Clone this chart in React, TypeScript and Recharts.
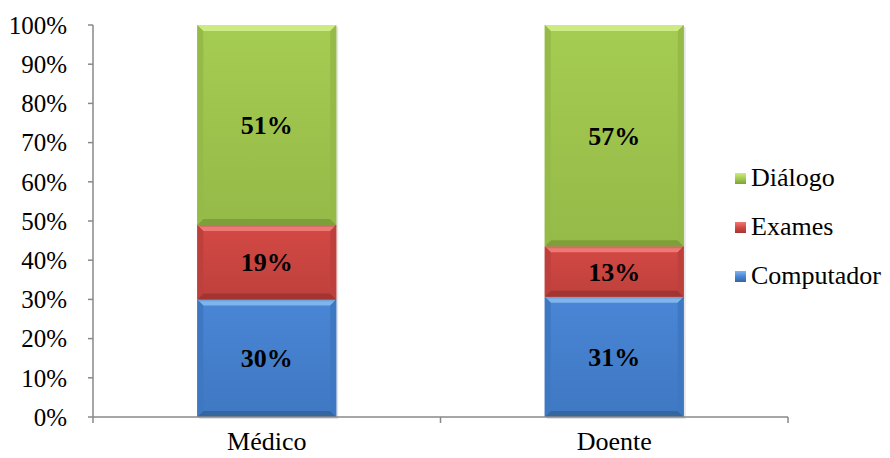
import React from "react"
import { BarChart, Bar, XAxis, YAxis, LabelList } from "recharts"

const categories = ["Médico", "Doente"]
const computador = [30, 31]
const exames = [19, 13]
const dialogo = [51, 57]
const yTicks = [0, 0.1, 0.2, 0.3, 0.4, 0.5, 0.6, 0.7, 0.8, 0.9, 1]

const data = categories.map((name, i) => ({
  name,
  computador: computador[i],
  exames: exames[i],
  dialogo: dialogo[i],
}))

const SERIES = [
  { key: "computador", label: "Computador", base: "#4A86D6", light: "#7FB5EE", dark: "#34669F", side: "#3F78C2" },
  { key: "exames", label: "Exames", base: "#D44944", light: "#EE7873", dark: "#A23532", side: "#BE403C" },
  { key: "dialogo", label: "Diálogo", base: "#A5CC52", light: "#CDEB83", dark: "#7F9F3A", side: "#95BA48" },
]

const FONT = '"Liberation Serif", "Times New Roman", serif'
const AXIS = "#888888"

// bevelled bar like the old Excel 2007 style
function bevelShape(s: typeof SERIES[number]) {
  return (props: any) => {
    const { x, y, width: w, height: h } = props
    if (!w || !h) return null
    const b = 6
    return (
      <g>
        <rect x={x + 2} y={y + 2} width={w} height={h} fill="rgba(0,0,0,0.1)" />
        <rect x={x} y={y} width={w} height={h} fill={`url(#grad-${s.key})`} />
        <polygon points={`${x},${y} ${x + w},${y} ${x + w - b},${y + b} ${x + b},${y + b}`} fill={s.light} />
        <polygon points={`${x},${y + h} ${x + w},${y + h} ${x + w - b},${y + h - b} ${x + b},${y + h - b}`} fill={s.dark} />
        <polygon points={`${x},${y} ${x + b},${y + b} ${x + b},${y + h - b} ${x},${y + h}`} fill={s.side} />
        <polygon points={`${x + w},${y} ${x + w - b},${y + b} ${x + w - b},${y + h - b} ${x + w},${y + h}`} fill={s.side} />
      </g>
    )
  }
}

const PLOT_LEFT = 93
const PLOT_RIGHT = 788
const band = (PLOT_RIGHT - PLOT_LEFT) / categories.length

function XTick(props: any) {
  const { x, y, payload, index } = props
  return (
    <g>
      <line x1={x - band / 2} x2={x - band / 2} y1={y - 20} y2={y - 14} stroke={AXIS} strokeWidth={1.5} />
      {index === categories.length - 1 && (
        <line x1={x + band / 2} x2={x + band / 2} y1={y - 20} y2={y - 14} stroke={AXIS} strokeWidth={1.5} />
      )}
      <text x={x} y={y} dy={13} textAnchor="middle" fontSize={26} fontFamily={FONT} fill="#000">
        {payload.value}
      </text>
    </g>
  )
}

export default function App() {
  return (
    <div style={{ position: "absolute", left: 0, top: 0, width: 890, height: 458, background: "#fff" }}>
      <BarChart
        width={890}
        height={458}
        data={data}
        stackOffset="expand"
        barCategoryGap="30%"
        margin={{ top: 25, right: 102, bottom: 0, left: 0 }}
      >
        <defs>
          {SERIES.map((s) => (
            <linearGradient key={s.key} id={`grad-${s.key}`} x1="0" y1="0" x2="0" y2="1">
              <stop offset="0%" stopColor={s.base} />
              <stop offset="100%" stopColor={s.side} />
            </linearGradient>
          ))}
        </defs>
        <XAxis
          dataKey="name"
          height={41}
          tickLine={false}
          axisLine={{ stroke: AXIS, strokeWidth: 1.5 }}
          tick={<XTick />}
          tickMargin={14}
        />
        <YAxis
          width={93}
          domain={[0, 1]}
          ticks={yTicks}
          tickFormatter={(v) => `${Math.round(v * 100)}%`}
          tick={{ fontSize: 25, fontFamily: FONT, fill: "#000" }}
          tickSize={5}
          tickMargin={21}
          tickLine={{ stroke: AXIS, strokeWidth: 1.5 }}
          axisLine={{ stroke: AXIS, strokeWidth: 1.5 }}
          interval={0}
        />
        {SERIES.map((s) => (
          <Bar key={s.key} dataKey={s.key} stackId="a" isAnimationActive={false} shape={bevelShape(s)}>
            <LabelList
              dataKey={s.key}
              position="center"
              formatter={(v: any) => `${v}%`}
              style={{ fontSize: 26, fontWeight: 700, fontFamily: FONT, fill: "#000" }}
            />
          </Bar>
        ))}
      </BarChart>
      <div style={{ position: "absolute", left: 735, top: 163, fontFamily: FONT, fontSize: 26, color: "#000" }}>
        {[...SERIES].reverse().map((s) => (
          <div key={s.key} style={{ display: "flex", alignItems: "center", height: 30, marginBottom: 19 }}>
            <span
              style={{
                width: 11,
                height: 11,
                marginRight: 5,
                background: `linear-gradient(${s.light}, ${s.base} 50%, ${s.dark})`,
              }}
            />
            <span>{s.label}</span>
          </div>
        ))}
      </div>
    </div>
  )
}
